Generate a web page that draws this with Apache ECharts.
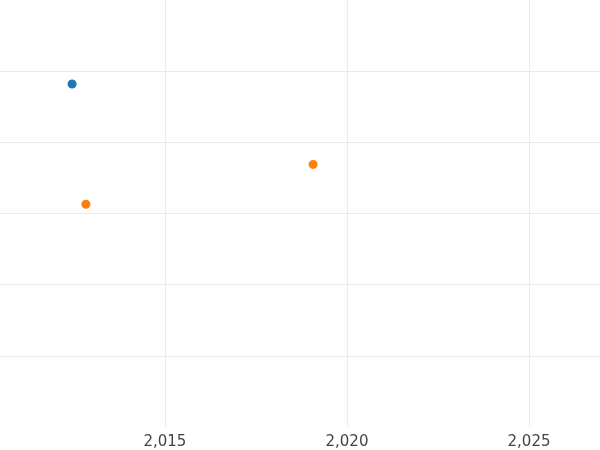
<!DOCTYPE html>
<html>
<head>
<meta charset="UTF-8">
<script src="https://cdn.jsdelivr.net/npm/echarts@6/dist/echarts.min.js"></script>
<style>body{margin:0} #c{width:600px;height:450px}</style>
</head>
<body>
<div id="c"></div>
<script>
const blueX = [2012.45];
const blueY = [4.82];
const orangeX = [2012.83, 2019.07];
const orangeY = [3.13, 3.69];
const xTicks = [2015, 2020, 2025];

const chart = echarts.init(document.getElementById('c'));
chart.setOption({
  animation: false,
  grid: { left: 0, right: 0, top: 0, bottom: 23 },
  xAxis: {
    type: 'value', min: 2010.47, max: 2026.95,
    axisLine: { show: false }, axisTick: { show: false }, splitLine: { show: false },
    axisLabel: {
      fontFamily: 'DejaVu Sans', fontSize: 15, color: '#444', margin: 8,
      customValues: xTicks
    }
  },
  yAxis: {
    type: 'value', min: 0, max: 6, interval: 1,
    axisLine: { show: false }, axisTick: { show: false }, axisLabel: { show: false },
    splitLine: { showMinLine: false, showMaxLine: false, lineStyle: { color: '#ebebeb' } }
  },
  series: [
    {
      type: 'scatter', symbolSize: 9, itemStyle: { color: '#1f77b4', opacity: 1 },
      data: blueX.map((x, i) => [x, blueY[i]]),
      markLine: {
        silent: true, symbol: 'none', label: { show: false },
        lineStyle: { color: '#ebebeb', type: 'solid', width: 1 },
        data: xTicks.map(t => ({ xAxis: t }))
      }
    },
    {
      type: 'scatter', symbolSize: 9, itemStyle: { color: '#ff7f0e', opacity: 1 },
      data: orangeX.map((x, i) => [x, orangeY[i]])
    }
  ]
});
</script>
</body>
</html>
